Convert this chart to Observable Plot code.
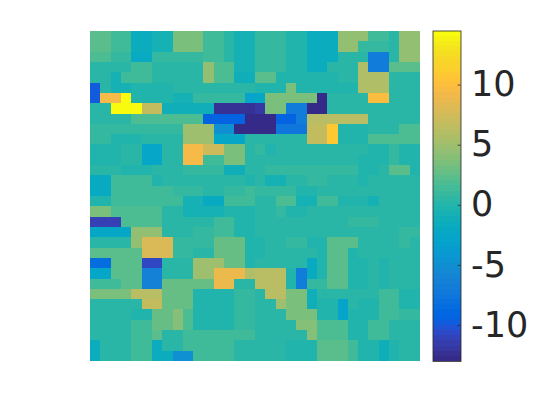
<!DOCTYPE html>
<html>
<head>
<meta charset="utf-8">
<script src="https://cdn.jsdelivr.net/npm/d3@7"></script>
<script src="https://cdn.jsdelivr.net/npm/@observablehq/plot@0.6"></script>
<style>
html,body{margin:0;padding:0;background:#fff;}
#chart{position:relative;width:560px;height:420px;overflow:hidden;}
#chart svg{position:absolute;top:0;background:none;}
</style>
</head>
<body>
<div id="chart"></div>
<script>
const parula = [[.2081,.1663,.5292],[.2116,.1898,.5777],[.2123,.2138,.6270],[.2081,.2386,.6771],[.1959,.2645,.7279],[.1707,.2919,.7792],[.1253,.3242,.8303],[.0591,.3598,.8683],[.0117,.3875,.8820],[.0060,.4086,.8828],[.0165,.4266,.8786],[.0329,.4430,.8720],[.0498,.4586,.8641],[.0629,.4737,.8554],[.0723,.4887,.8467],[.0779,.5040,.8384],[.0793,.5200,.8312],[.0749,.5375,.8263],[.0641,.5570,.8240],[.0488,.5772,.8228],[.0343,.5966,.8199],[.0265,.6137,.8135],[.0239,.6287,.8038],[.0231,.6418,.7913],[.0228,.6535,.7768],[.0267,.6642,.7607],[.0384,.6743,.7436],[.0590,.6838,.7254],[.0843,.6928,.7062],[.1133,.7015,.6859],[.1453,.7098,.6646],[.1801,.7177,.6424],[.2178,.7250,.6193],[.2586,.7317,.5954],[.3022,.7376,.5712],[.3482,.7424,.5473],[.3953,.7459,.5244],[.4420,.7481,.5033],[.4871,.7491,.4840],[.5300,.7491,.4661],[.5709,.7485,.4494],[.6099,.7473,.4337],[.6473,.7456,.4188],[.6834,.7435,.4044],[.7184,.7411,.3905],[.7525,.7384,.3768],[.7858,.7356,.3633],[.8185,.7327,.3498],[.8507,.7299,.3360],[.8824,.7274,.3217],[.9139,.7258,.3063],[.9450,.7261,.2886],[.9739,.7314,.2666],[.9938,.7455,.2403],[.9990,.7653,.2164],[.9955,.7861,.1967],[.9880,.8066,.1794],[.9789,.8271,.1633],[.9697,.8481,.1475],[.9626,.8705,.1309],[.9589,.8949,.1132],[.9598,.9218,.0948],[.9661,.9514,.0755],[.9763,.9831,.0538]]
  .map(c => `rgb(${c.map(v => Math.round(v * 255)).join(",")})`);

const colorDomain = [-13, 14.5];
const colorTicks = [-10, -5, 0, 5, 10];

const rows = [
[2.3,2.3,1.3,1.3,-1.6,-1.6,-.8,-.8,3.5,3.5,3.5,1.3,1.3,.3,-.8,-.8, .8,.8,.8,-.2,-.2,-1.6,-1.6,-1.6,4.5,4.5,4.5,1.3,1.3,.3,4.5,4.5],
[2.3,2.3,1.3,1.3,-1.6,-1.6,-.8,-.8,3.5,3.5,3.5,1.3,1.3,.3,-.8,-.8, .8,.8,.8,-.2,-.2,-1.6,-1.6,-1.6,4.5,4.5,.8,.8,.8,.3,4.5,4.5],
[1.8,1.8,.8,.8,-2,-2,.8,.8,.8,.8,.8,1.3,1.3,.3,-.8,-.8, .8,.8,.8,-.2,-.2,-1.6,-1.6,-1.6,.3,.3,.3,-7,-7,.3,4.5,4.5],
[.3,.3,.3,.3,1.3,1.3,.3,.3,.3,.3,.3,4.5,1.8,1.8,-.8,-.8, .8,.8,.8,-.2,-.2,-1.6,-1.6,.3,.3,.3,5.8,-7,-7,2.3,2.3,2.3],
[.3,.3,-.8,1.3,1.3,1.3,.3,.3,.3,.3,.3,4.5,1.8,1.8,-1.2,-1.2, 2.3,2.3,-.2,-.2,-.2,-.2,-.2,-.2,.3,.3,5.8,5.8,5.8,.3,.3,.3],
[-10,.3,-.8,-.8,-.2,-.2,-.2,-.2,.3,.3,.3,.3,.3,.3,.3,.3, -.2,-.2,-.2,3.5,-.2,-.2,-.2,-.2,-.2,-.2,5.8,5.8,5.8,.3,.3,.3],
[-10,9.5,9.5,14.5,-.2,-.2,-.2,-.2,-.8,-.8,.8,.8,.8,.8,.8,-3, -2.5,3.5,3.5,3.5,3.5,3.5,-13,.3,.3,.3,.3,10,10,.3,.3,.3],
[.3,.3,14.5,14.5,14.5,6.8,6.8,-1.2,-1.2,-1.2,-1.2,-1.2,-12.5,-12.5,-12.5,-12.5, -12,3.5,3.5,-7,-7,-13,-13,.3,.3,.3,.3,.3,.3,.3,.3,.3],
[.3,.3,.3,.3,1.8,1.8,1.8,1.8,1.8,1.8,1.8,-9.5,-9.5,-9.5,-9.5,-13, -13,-13,-9.5,-9.5,-7,6.3,6.3,6.3,6.3,6.3,6.3,.3,.3,.3,.3,.3],
[.8,.8,.8,.8,.8,.8,.8,.8,.8,5,5,5,-5,-5,-13,-13, -13,-13,-7.5,-7.5,-7.5,6.8,6.8,11,-.2,-.2,-.2,.3,.3,.3,1.8,1.8],
[.8,.8,-.2,-.2,-.2,.3,.3,.3,.3,5,5,5,-2.5,-2.5,-2.5,.3, .3,.3,.3,.3,.3,6.8,6.8,11,-.2,-.2,-.2,1.8,1.8,1.8,1.8,1.8],
[-.2,-.2,-.2,.3,.3,-2.7,-2.7,.3,.3,9.5,9.5,7.3,7.3,3.5,3.5,.3, .8,-.2,.3,.3,.3,.3,.3,.3,.3,.3,.3,-.2,-.2,.8,-.2,-.2],
[-.2,-.2,-.2,.3,.3,-2.7,-2.7,.3,.3,9.5,9.5,1.3,1.3,3.5,3.5,.3, .3,.3,.3,.3,.3,.3,.3,.3,.3,.3,-.2,-.2,-.2,.8,-.2,-.2],
[.3,.3,.3,-.2,-.2,-.2,.3,.3,.3,.8,.8,.8,.8,-1.2,-1.2,.3, .3,.8,.8,.8,.8,.8,.8,.8,.8,.8,-.2,-.2,.3,2.3,2.3,-.2],
[-2,-2,1.3,1.3,1.3,1.3,-.2,.3,.3,.3,.3,.3,.3,.3,.3,-.2, .3,-.8,-.8,.3,.3,.8,.8,.3,.3,.3,-.2,.3,.3,.3,.3,.3],
[-2,-2,1.3,1.3,1.3,1.3,1.3,1.3,.8,.8,.8,.3,.3,.8,.8,1.3, .8,.8,.8,.8,-.2,-.2,.3,.3,.3,.3,.3,.3,.3,.3,.3,.3],
[-.2,-.2,1.3,1.3,1.3,1.3,1.3,1.3,1.3,-.8,-.8,-2,-2,1.3,1.3,1.3, .3,.3,1.8,1.8,-.8,-.8,1.3,1.3,-.2,-.2,-.2,-.8,.3,.3,.3,.3],
[3.5,3.5,1.8,1.8,1.8,1.8,1.8,.3,.3,-.8,-.8,-.8,-.8,-.2,-.2,-.2, .3,.3,.8,-.2,-.2,.3,.3,.3,.3,.3,.3,.3,.3,.3,.3,.3],
[-11.5,-11.5,-11.5,1.8,1.8,1.8,1.8,.3,.3,.3,.3,.3,1.3,1.3,-.2,-.2, .3,.3,.3,.3,.3,.3,.3,.3,.3,.8,.8,.8,.3,.3,.3,.3],
[-2.5,-2.5,-2.5,-2.5,4.5,4.5,4.5,.3,.3,.3,.8,.8,1.3,1.3,-.2,-.2, .3,.3,.3,.3,.3,.3,.3,.3,.3,.3,.3,.3,.3,.3,.8,.8],
[.3,.3,.3,.3,4.5,8,8,8,.8,.8,.8,.8,2.8,2.8,2.8,-.2, -.2,.3,.3,.8,.8,-.2,-.2,2.3,2.3,2.3,.3,.3,.3,.3,.8,.3],
[2.3,2.3,2.3,2.3,2.3,8,8,8,.8,.8,.3,.3,2.8,2.8,2.8,-.2, -.2,.3,.3,.3,.3,.3,-.2,2.3,2.3,-.2,.3,.3,.3,.3,.3,.3],
[-8.5,-8.5,2.3,2.3,2.3,-11,-11,.3,.3,.3,5,5,5,2.8,2.8,-.2, .3,.3,.3,.3,.3,-2,-.2,2.3,2.3,-.2,-.2,.3,-.2,.3,.3,.3],
[-2.7,-2.7,2.3,2.3,2.3,-6.5,-6.5,.3,.3,.3,5,5,9,9,9,5.8, 6.3,6.3,6.3,-.2,-7,-2,-.2,2.3,2.3,-.2,-.2,.3,-.2,.3,.3,.3],
[1.3,1.3,1.3,2.3,2.3,-6.5,-6.5,2.8,2.8,2.8,2.8,2.8,9,9,.3,.3, 6.3,6.3,6.3,-.2,-7,.8,.8,2.3,2.3,-.2,-.2,.3,-.2,.3,.3,.3],
[3.5,3.5,3.5,3.5,6.3,6.3,6.3,2.8,2.8,2.8,-.2,-.2,-.2,-.2,.8,.8, .3,6.3,6.3,3.5,3.5,-1.2,.3,.3,.3,.3,.3,.3,1.3,1.3,-.2,-.2],
[.3,.3,.3,.3,.3,6.8,6.8,2.8,2.8,2.8,-.2,-.2,-.2,-.2,.8,.8, .3,.3,5,3.5,3.5,-1.2,-.2,-.2,-3,.3,-.2,-.2,1.3,1.3,-.2,-.2],
[.3,.3,.3,.3,-.2,-.2,2.8,2.8,4,1.8,-.2,-.2,-.2,-.2,.8,.8, .3,.3,.3,3.5,3.5,3.5,-.2,-.2,-3,-.2,-.2,-.2,1.3,1.3,.8,.8],
[.3,.3,.3,.3,1.3,1.3,2.8,2.8,4,1.8,-.2,-.2,-.2,-.2,.8,.8, .3,.3,.3,.3,4,4,1.8,1.8,1.8,-.2,-.2,1.3,1.3,.3,.3,.3],
[.3,.3,.3,.3,1.3,1.3,2.3,.3,.3,1.3,1.3,1.3,1.3,1.3,1.3,1.3, .3,.3,.3,.3,.3,4,1.8,1.8,1.8,-.2,-.2,1.3,1.3,.3,.3,.3],
[-1.6,.3,.3,.3,1.3,1.3,-1.6,.3,.3,1.3,1.3,1.3,1.3,1.3,.3,.3, .3,.3,.3,-.2,-.2,-.2,2.3,2.3,2.3,1.3,-.2,-.2,-1.2,-.2,.3,.3],
[-1.6,.3,.3,.3,1.3,1.3,-1.6,-1.6,-5,-5,1.3,1.3,1.3,1.3,.3,.3, .3,.3,.3,-.2,-.2,-.2,2.3,2.3,2.3,1.3,-.2,-.2,-1.2,-.2,.3,.3]
];

const cells = rows.flatMap((row, r) => row.map((v, c) => ({r, c, v})));
const index = d3.range(rows.length);

const heat = Plot.plot({
  width: 560, height: 420,
  marginLeft: 90, marginRight: 140, marginTop: 31, marginBottom: 59,
  x: {type: "band", domain: index, padding: 0, round: false, axis: null},
  y: {type: "band", domain: index, padding: 0, round: false, axis: null},
  color: {type: "linear", domain: colorDomain, range: parula, interpolate: "rgb", clamp: true},
  marks: [
    Plot.cell(cells, {x: "c", y: "r", fill: "v", shapeRendering: "crispEdges"})
  ]
});
heat.style.left = "0px";

const step = (colorDomain[1] - colorDomain[0]) / parula.length;
const bins = parula.map((fill, i) => ({
  lo: colorDomain[0] + i * step,
  hi: colorDomain[0] + (i + 1) * step,
  fill
}));

const bar = Plot.plot({
  width: 128, height: 420,
  marginLeft: 0.5, marginRight: 99.5, marginTop: 30.5, marginBottom: 59,
  style: {fontFamily: "'DejaVu Sans'", background: "none", overflow: "visible"},
  x: {domain: [0, 1], axis: null},
  y: {domain: colorDomain, axis: null},
  marks: [
    Plot.rect(bins, {x1: 0, x2: 1, y1: "lo", y2: "hi", fill: d => d.fill, shapeRendering: "crispEdges"}),
    Plot.frame({stroke: "#262626", strokeWidth: 0.8}),
    Plot.ruleY(colorTicks, {x1: 0.9, x2: 1, stroke: "#262626", strokeWidth: 0.8}),
    Plot.axisY(colorTicks, {
      anchor: "right", tickSize: 0, tickPadding: 10, label: null,
      tickFormat: d => String(d), fontSize: 35, fill: "#262626"
    })
  ]
});
bar.style.left = "432px";
bar.style.overflow = "visible";

const chart = document.getElementById("chart");
chart.append(heat, bar);
</script>
</body>
</html>
